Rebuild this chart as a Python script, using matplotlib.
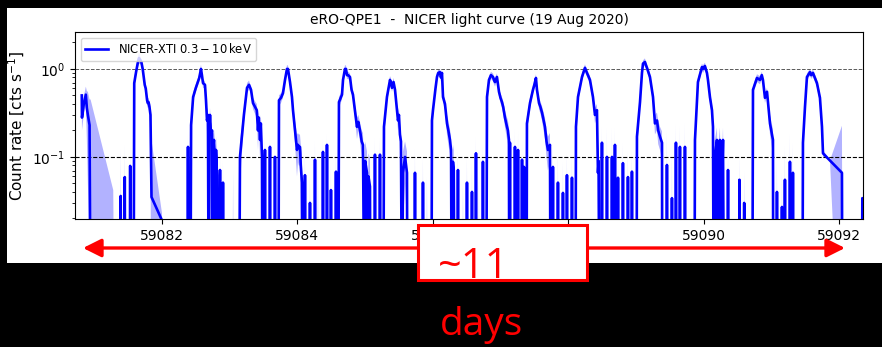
import numpy as np
import matplotlib.pyplot as plt
from matplotlib.patches import Rectangle, FancyArrowPatch
from matplotlib.ticker import FormatStrFormatter

# light curve: (MJD, rate [cts/s], 1-sigma error)
# rate 0 = orbit with no net counts (drops off the log axis)
start = [
    (59080.815, 0.50, 0.10), (59080.818, 0.28, 0.08), (59080.845, 0.40, 0.10),
    (59080.860, 0.45, 0.10), (59080.875, 0.51, 0.12), (59080.890, 0.36, 0.20),
    (59080.905, 0.30, 0.25), (59080.930, 0.23, 0.22), (59080.945, 0.0, 0.45),
    (59081.280, 0.0, 0.042), (59081.290, 0.0, 0.005),
]
flare01 = [
    (59081.580, 0.0, 0.01), (59081.590, 0.69, 0.10), (59081.620, 0.95, 0.10),
    (59081.645, 1.20, 0.15), (59081.660, 1.33, 0.20), (59081.675, 1.27, 0.12),
    (59081.695, 1.20, 0.10), (59081.715, 1.00, 0.10), (59081.745, 0.66, 0.08),
    (59081.760, 0.60, 0.06), (59081.780, 0.44, 0.06), (59081.790, 0.41, 0.05),
    (59081.800, 0.42, 0.05), (59081.815, 0.37, 0.06), (59081.830, 0.30, 0.10),
    (59081.845, 0.035, 0.12), (59082.000, 0.019, 0.004), (59082.010, 0.0, 0.005),
]
flare02 = [
    (59082.420, 0.0, 0.02), (59082.430, 0.23, 0.05), (59082.460, 0.48, 0.06),
    (59082.500, 0.61, 0.06), (59082.550, 0.79, 0.08), (59082.576, 1.00, 0.12),
    (59082.590, 0.85, 0.08), (59082.606, 0.69, 0.08), (59082.635, 0.66, 0.06),
    (59082.650, 0.44, 0.06), (59082.665, 0.26, 0.08), (59082.679, 0.30, 0.06),
    (59082.690, 0.0, 0.10), (59082.700, 0.20, 0.06), (59082.709, 0.30, 0.06),
    (59082.724, 0.18, 0.06), (59082.739, 0.20, 0.05), (59082.745, 0.0, 0.08),
    (59082.753, 0.12, 0.06), (59082.768, 0.156, 0.05), (59082.783, 0.09, 0.06),
    (59082.790, 0.0, 0.06), (59082.798, 0.12, 0.05), (59082.812, 0.062, 0.05),
    (59082.827, 0.0, 0.03), (59082.840, 0.0, 0.01),
]
flare03 = [
    (59083.140, 0.0, 0.01), (59083.152, 0.10, 0.05), (59083.210, 0.30, 0.06),
    (59083.256, 0.61, 0.08), (59083.285, 0.66, 0.08), (59083.300, 0.62, 0.06),
    (59083.315, 0.58, 0.06), (59083.344, 0.41, 0.06), (59083.374, 0.37, 0.06),
    (59083.400, 0.34, 0.06), (59083.418, 0.20, 0.08), (59083.430, 0.28, 0.06),
    (59083.448, 0.156, 0.06), (59083.460, 0.24, 0.06), (59083.477, 0.10, 0.06),
    (59083.485, 0.0, 0.02), (59083.495, 0.0, 0.01),
]
flare04 = [
    (59083.720, 0.0, 0.01), (59083.728, 0.44, 0.06), (59083.758, 0.47, 0.06),
    (59083.787, 0.53, 0.06), (59083.817, 0.75, 0.08), (59083.846, 1.00, 0.10),
    (59083.861, 1.00, 0.10), (59083.875, 0.85, 0.08), (59083.891, 0.71, 0.08),
    (59083.920, 0.48, 0.06), (59083.935, 0.34, 0.06), (59083.965, 0.20, 0.06),
    (59083.994, 0.12, 0.06), (59084.009, 0.137, 0.05), (59084.020, 0.13, 0.05),
    (59084.038, 0.13, 0.05), (59084.050, 0.08, 0.06), (59084.068, 0.051, 0.06),
    (59084.075, 0.0, 0.02), (59084.085, 0.0, 0.01),
]
flare05 = [
    (59084.605, 0.0, 0.01), (59084.614, 0.42, 0.06), (59084.659, 0.51, 0.06),
    (59084.674, 0.75, 0.08), (59084.703, 1.00, 0.10), (59084.718, 1.00, 0.10),
    (59084.733, 0.85, 0.08), (59084.750, 0.85, 0.08), (59084.777, 0.81, 0.08),
    (59084.800, 0.58, 0.06), (59084.821, 0.51, 0.06), (59084.850, 0.34, 0.06),
    (59084.880, 0.22, 0.06), (59084.900, 0.25, 0.05), (59084.925, 0.20, 0.05),
    (59084.950, 0.15, 0.05), (59084.969, 0.137, 0.05), (59084.990, 0.0, 0.05),
    (59085.000, 0.09, 0.06), (59085.028, 0.066, 0.05), (59085.040, 0.0, 0.03),
    (59085.050, 0.06, 0.05), (59085.072, 0.046, 0.05), (59085.080, 0.0, 0.01),
]
flare06 = [
    (59085.270, 0.0, 0.01), (59085.279, 0.22, 0.05), (59085.323, 0.48, 0.06),
    (59085.368, 0.75, 0.08), (59085.380, 0.71, 0.08), (59085.397, 0.61, 0.06),
    (59085.420, 0.71, 0.08), (59085.442, 0.58, 0.06), (59085.471, 0.34, 0.06),
    (59085.486, 0.26, 0.06), (59085.500, 0.30, 0.06), (59085.515, 0.18, 0.06),
    (59085.530, 0.15, 0.05), (59085.545, 0.0, 0.05), (59085.560, 0.066, 0.05),
    (59085.590, 0.10, 0.05), (59085.619, 0.066, 0.05), (59085.625, 0.0, 0.01),
]
flare07 = [
    (59085.980, 0.0, 0.01), (59085.988, 0.26, 0.05), (59086.003, 0.34, 0.05),
    (59086.040, 0.60, 0.06), (59086.062, 0.81, 0.08), (59086.080, 0.90, 0.08),
    (59086.106, 0.92, 0.08), (59086.120, 0.80, 0.08), (59086.136, 0.90, 0.08),
    (59086.151, 0.48, 0.06), (59086.180, 0.40, 0.06), (59086.210, 0.24, 0.06),
    (59086.230, 0.20, 0.06), (59086.254, 0.156, 0.05), (59086.270, 0.12, 0.05),
    (59086.280, 0.0, 0.05), (59086.298, 0.088, 0.05), (59086.310, 0.07, 0.05),
    (59086.320, 0.0, 0.02), (59086.330, 0.0, 0.01),
]
flare08 = [
    (59086.790, 0.0, 0.01), (59086.801, 0.48, 0.06), (59086.830, 0.75, 0.08),
    (59086.860, 0.85, 0.08), (59086.889, 0.81, 0.08), (59086.904, 0.75, 0.08),
    (59086.919, 0.71, 0.08), (59086.948, 0.81, 0.08), (59086.978, 0.55, 0.06),
    (59087.000, 0.47, 0.06), (59087.022, 0.42, 0.06), (59087.040, 0.37, 0.06),
    (59087.066, 0.28, 0.06), (59087.096, 0.22, 0.06), (59087.110, 0.20, 0.06),
    (59087.125, 0.156, 0.06), (59087.130, 0.0, 0.02), (59087.140, 0.145, 0.05),
    (59087.150, 0.0, 0.01),
]
flare09 = [
    (59087.385, 0.0, 0.01), (59087.391, 0.24, 0.05), (59087.436, 0.41, 0.06),
    (59087.480, 0.58, 0.06), (59087.500, 0.66, 0.07), (59087.524, 0.79, 0.08),
    (59087.539, 0.58, 0.06), (59087.569, 0.41, 0.06), (59087.590, 0.37, 0.06),
    (59087.613, 0.32, 0.06), (59087.657, 0.22, 0.06), (59087.680, 0.15, 0.05),
    (59087.701, 0.12, 0.05), (59087.731, 0.137, 0.05), (59087.740, 0.0, 0.01),
]
flare10 = [
    (59088.108, 0.0, 0.01), (59088.115, 0.22, 0.05), (59088.145, 0.48, 0.06),
    (59088.204, 0.81, 0.08), (59088.248, 1.03, 0.10), (59088.278, 0.90, 0.08),
    (59088.322, 0.75, 0.08), (59088.366, 0.48, 0.06), (59088.396, 0.30, 0.06),
    (59088.425, 0.34, 0.06), (59088.440, 0.066, 0.05), (59088.450, 0.09, 0.05),
    (59088.460, 0.0, 0.01),
]
flare11 = [
    (59089.010, 0.0, 0.01), (59089.016, 0.17, 0.05), (59089.061, 0.42, 0.06),
    (59089.090, 0.90, 0.08), (59089.105, 1.15, 0.10), (59089.134, 1.20, 0.12),
    (59089.150, 1.10, 0.10), (59089.164, 1.03, 0.10), (59089.208, 0.81, 0.08),
    (59089.253, 0.48, 0.06), (59089.282, 0.24, 0.06), (59089.312, 0.26, 0.06),
    (59089.330, 0.20, 0.06), (59089.356, 0.17, 0.05), (59089.386, 0.145, 0.05),
    (59089.390, 0.0, 0.01),
]
flare12 = [
    (59089.865, 0.0, 0.01), (59089.873, 0.156, 0.05), (59089.917, 0.71, 0.08),
    (59089.976, 1.05, 0.10), (59089.991, 1.00, 0.10), (59090.020, 1.08, 0.10),
    (59090.050, 0.90, 0.08), (59090.065, 0.75, 0.08), (59090.094, 0.48, 0.06),
    (59090.124, 0.34, 0.06), (59090.139, 0.22, 0.06), (59090.150, 0.0, 0.12),
    (59090.168, 0.10, 0.06), (59090.198, 0.156, 0.06), (59090.205, 0.0, 0.10),
    (59090.213, 0.066, 0.06), (59090.242, 0.156, 0.06), (59090.250, 0.0, 0.10),
    (59090.272, 0.048, 0.06), (59090.287, 0.156, 0.06), (59090.300, 0.0, 0.05),
    (59090.310, 0.0, 0.01),
]
flare13 = [
    (59090.720, 0.0, 0.01), (59090.730, 0.58, 0.06), (59090.789, 0.79, 0.08),
    (59090.833, 0.75, 0.08), (59090.860, 0.85, 0.08), (59090.877, 0.75, 0.08),
    (59090.907, 0.47, 0.06), (59090.937, 0.55, 0.06), (59090.981, 0.24, 0.06),
    (59091.025, 0.156, 0.05), (59091.030, 0.0, 0.01),
]
flare14 = [
    (59091.460, 0.0, 0.01), (59091.468, 0.145, 0.05), (59091.498, 0.37, 0.06),
    (59091.527, 0.81, 0.08), (59091.572, 0.92, 0.08), (59091.590, 0.85, 0.08),
    (59091.616, 0.90, 0.08), (59091.675, 0.69, 0.07), (59091.719, 0.47, 0.06),
    (59091.749, 0.22, 0.06), (59091.764, 0.11, 0.01), (59091.867, 0.091, 0.0),
    (59092.044, 0.066, 0.16), (59092.050, 0.0, 0.01),
]
# short single-orbit detections between the eruptions
spikes = [
    (59081.390, 0.036, 0.09), (59081.450, 0.059, 0.08), (59081.530, 0.079, 0.05),
    (59082.384, 0.13, 0.05), (59082.857, 0.071, 0.05), (59082.901, 0.051, 0.04),
    (59083.050, 0.0, 0.07), (59083.521, 0.12, 0.06), (59083.595, 0.13, 0.05),
    (59083.669, 0.10, 0.05), (59084.112, 0.062, 0.05), (59084.186, 0.030, 0.03),
    (59084.260, 0.093, 0.06), (59084.304, 0.0, 0.10), (59084.378, 0.114, 0.05),
    (59084.437, 0.137, 0.05), (59084.496, 0.042, 0.04), (59084.570, 0.068, 0.05),
    (59085.146, 0.106, 0.06), (59085.220, 0.106, 0.06), (59085.737, 0.066, 0.06),
    (59085.855, 0.051, 0.05), (59085.914, 0.0, 0.06), (59086.372, 0.071, 0.05),
    (59086.446, 0.0, 0.05), (59086.505, 0.051, 0.05), (59086.579, 0.040, 0.05),
    (59086.638, 0.11, 0.06), (59086.682, 0.0, 0.06), (59086.741, 0.088, 0.05),
    (59087.214, 0.13, 0.08), (59087.259, 0.12, 0.08), (59087.318, 0.093, 0.06),
    (59087.347, 0.077, 0.05), (59087.775, 0.077, 0.06), (59087.849, 0.051, 0.06),
    (59087.923, 0.039, 0.05), (59087.982, 0.062, 0.05), (59088.056, 0.058, 0.05),
    (59088.499, 0.145, 0.08), (59088.573, 0.10, 0.12), (59088.647, 0.10, 0.12),
    (59088.691, 0.137, 0.08), (59088.736, 0.058, 0.05), (59088.809, 0.085, 0.06),
    (59088.883, 0.059, 0.06), (59088.942, 0.068, 0.05), (59089.459, 0.081, 0.12),
    (59089.533, 0.034, 0.08), (59089.592, 0.145, 0.10), (59089.651, 0.13, 0.10),
    (59089.725, 0.13, 0.12), (59090.361, 0.071, 0.05), (59090.530, 0.055, 0.05),
    (59090.600, 0.030, 0.04), (59091.084, 0.040, 0.05), (59091.158, 0.027, 0.04),
    (59091.202, 0.055, 0.08), (59091.276, 0.088, 0.10), (59091.320, 0.066, 0.08),
    (59092.345, 0.034, 0.01),
]
xticks = [59082, 59084, 59086, 59088, 59090, 59092]

rows = []
for seg in [start, flare01, flare02, flare03, flare04, flare05, flare06, flare07,
            flare08, flare09, flare10, flare11, flare12, flare13, flare14]:
    rows += seg
for t, r, e in spikes:
    rows += [(t - 0.006, 0.0, 0.005), (t, r, e), (t + 0.006, 0.0, 0.005)]
rows.sort(key=lambda p: p[0])
mjd, rate, err = np.array(rows).T

W, H = 882, 347
fig = plt.figure(figsize=(W / 100, H / 100), dpi=100, facecolor='black')

def fx(x):
    return x / W

def fy(y):
    return 1 - y / H

# white panel of the original plot
fig.add_artist(Rectangle((fx(7), fy(263)), fx(875), 255 / H, transform=fig.transFigure,
                         facecolor='white', edgecolor='none', zorder=-1))

ax = fig.add_axes([fx(75), fy(219), fx(863) - fx(75), fy(32) - fy(219)])
ax.set_yscale('log')
ax.axhline(1.0, color='0.35', ls='--', lw=0.7)
ax.axhline(0.1, color='k', ls='--', lw=0.8)
ax.fill_between(mjd, np.clip(rate - err, 1e-4, None), rate + err,
                color='blue', alpha=0.3, lw=0)
ax.plot(mjd, np.clip(rate, 1e-3, None), color='blue', lw=1.9,
        label=r'NICER-XTI $0.3-10\,\mathrm{keV}$')

ax.set_xlim(59080.715, 59092.355)
ax.set_ylim(0.0197, 2.63)
ax.set_xticks(xticks)
ax.xaxis.set_major_formatter(FormatStrFormatter('%d'))
ax.tick_params(labelsize=10)
ax.set_ylabel('Count rate [cts s$^{-1}$]', fontsize=11)
ax.set_title('eRO-QPE1  -  NICER light curve (19 Aug 2020)', fontsize=10)
ax.legend(loc='upper left', fontsize=8.3)

# red annotation: arrow, box and text
fig.add_artist(FancyArrowPatch((fx(83), fy(248)), (fx(845), fy(248)),
                               transform=fig.transFigure,
                               arrowstyle='<|-|>,head_length=1.1,head_width=0.55',
                               mutation_scale=10, color='red', lw=2.4,
                               shrinkA=0, shrinkB=0, zorder=4))
fig.add_artist(Rectangle((fx(418), fy(280)), fx(587) - fx(418), 55 / H,
                         transform=fig.transFigure, facecolor='white',
                         edgecolor='red', lw=2.2, zorder=5))
fig.text(fx(438), fy(278), '~11', color='red', fontsize=30, family='Open Sans',
         ha='left', va='baseline', zorder=6)
fig.text(fx(481), fy(335), 'days', color='red', fontsize=28, family='Open Sans',
         ha='center', va='baseline', zorder=6)

fig.savefig('out.png', dpi=100)
